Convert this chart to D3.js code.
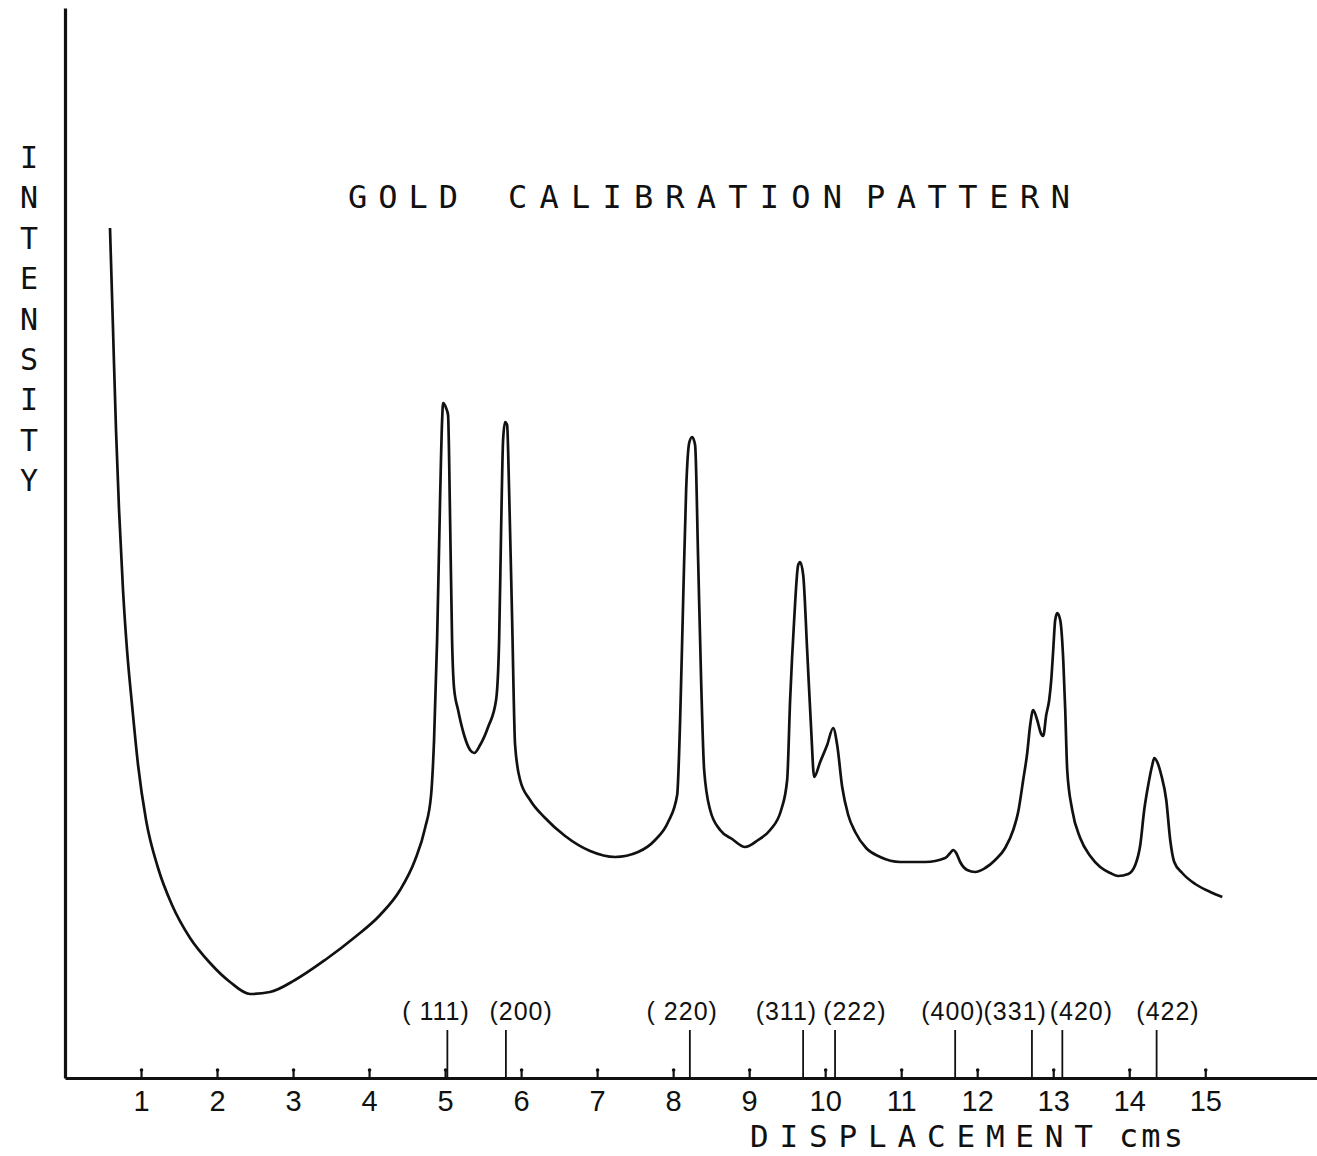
<!DOCTYPE html>
<html>
<head>
<meta charset="utf-8">
<title>Gold calibration pattern</title>
<script src="https://cdn.jsdelivr.net/npm/d3@7/dist/d3.min.js"></script>
<style>
  html, body { margin: 0; padding: 0; background: #fff; }
  svg { display: block; }
  .lettering { font-family: "DejaVu Sans Mono", monospace; fill: #111; }
  .digits { font-family: "Liberation Sans", Arial, sans-serif; fill: #111; }
</style>
</head>
<body>
<svg id="chart" width="1317" height="1156"></svg>
<script>
// Recorder trace: displacement along the film (cm) against intensity (arbitrary units)
const displacement = [
  0.592, 0.632, 0.671, 0.711, 0.763, 0.816, 0.882, 0.961, 1.066, 1.224,
  1.408, 1.645, 1.908, 2.171, 2.434, 2.697, 3.026, 3.421, 3.816, 4.145,
  4.408, 4.605, 4.737, 4.816, 4.855, 4.895, 4.934, 4.961, 4.974, 5.013,
  5.039, 5.066, 5.092, 5.118, 5.171, 5.250, 5.329, 5.382, 5.461, 5.566,
  5.671, 5.711, 5.737, 5.763, 5.789, 5.816, 5.842, 5.882, 5.921, 5.987,
  6.118, 6.316, 6.579, 6.908, 7.237, 7.539, 7.763, 7.934, 8.053, 8.092,
  8.132, 8.171, 8.211, 8.250, 8.289, 8.329, 8.368, 8.408, 8.487, 8.618,
  8.776, 8.947, 9.118, 9.276, 9.421, 9.500, 9.539, 9.592, 9.645, 9.671,
  9.711, 9.763, 9.816, 9.855, 9.934, 10.026, 10.105, 10.158, 10.224, 10.303,
  10.395, 10.539, 10.724, 10.987, 11.316, 11.579, 11.645, 11.684, 11.724, 11.776,
  11.868, 11.974, 12.105, 12.237, 12.368, 12.474, 12.539, 12.605, 12.658, 12.697,
  12.737, 12.789, 12.842, 12.868, 12.908, 12.947, 12.974, 13.000, 13.026, 13.053,
  13.092, 13.132, 13.158, 13.184, 13.250, 13.355, 13.487, 13.618, 13.750, 13.855,
  13.987, 14.079, 14.145, 14.197, 14.250, 14.303, 14.329, 14.368, 14.421, 14.487,
  14.539, 14.592, 14.697, 14.868, 15.066, 15.224
];
const intensity = [
  85.0, 74.8, 64.8, 56.8, 48.8, 42.8, 37.3, 31.3, 25.8, 21.0,
  17.3, 14.0, 11.5, 9.6, 8.4, 8.6, 9.8, 11.8, 14.1, 16.3,
  18.8, 21.8, 25.0, 28.3, 33.8, 43.8, 57.8, 65.8, 67.5, 67.0,
  66.3, 55.8, 43.8, 39.0, 36.8, 34.3, 32.8, 32.5, 33.3, 35.1,
  37.8, 43.8, 54.8, 63.8, 65.6, 65.3, 58.8, 45.8, 33.3, 29.8,
  27.8, 26.0, 24.2, 22.7, 22.1, 22.6, 23.8, 25.6, 28.3, 35.8,
  47.8, 58.8, 63.5, 64.1, 63.3, 51.8, 39.8, 30.8, 26.8, 24.8,
  23.9, 23.1, 23.8, 24.8, 26.8, 29.8, 37.8, 45.8, 51.3, 51.6,
  50.3, 42.8, 34.8, 30.1, 31.6, 33.3, 35.0, 33.3, 29.1, 26.3,
  24.6, 23.0, 22.1, 21.6, 21.6, 22.0, 22.5, 22.8, 22.5, 21.6,
  20.8, 20.6, 21.0, 21.8, 23.0, 24.8, 26.6, 29.8, 32.5, 35.3,
  36.8, 35.8, 34.4, 34.2, 36.3, 37.8, 39.8, 42.8, 45.8, 46.5,
  45.8, 41.8, 36.8, 30.8, 26.8, 24.0, 22.2, 21.1, 20.5, 20.2,
  20.4, 21.3, 23.3, 26.8, 29.3, 31.3, 32.0, 31.6, 30.3, 27.8,
  23.8, 21.6, 20.5, 19.4, 18.6, 18.1
];

// Axis tick labels (cm)
const tickLabels = ["1", "2", "3", "4", "5", "6", "7", "8", "9", "10", "11", "12", "13", "14", "15"];

// Indexed reflections of gold and where each line falls on the film
const hklLabels = ["( 111)", "(200)", "( 220)", "(311)", "(222)", "(400)", "(331)", "(420)", "(422)"];
const hklDisplacement = [5.03, 5.80, 8.22, 9.71, 10.13, 11.71, 12.72, 13.12, 14.36];
const hklLabelAt = [4.88, 6.0, 8.12, 9.49, 10.39, 11.68, 12.5, 13.37, 14.51];

const titleWords = ["GOLD", "CALIBRATION", "PATTERN"];
const yTitle = "INTENSITY";
const xTitleWords = ["DISPLACEMENT", "cms"];

const svg = d3.select("#chart");
const ink = "#111";

const x = d3.scaleLinear().domain([0, 16.47]).range([65, 1317]);
const y = d3.scaleLinear().domain([0, 107]).range([1078, 8]);

// x axis: baseline with short upward ticks
const xAxis = d3.axisBottom(x)
  .tickValues(tickLabels.map(Number))
  .tickFormat((d, i) => tickLabels[i])
  .tickSizeInner(-9)
  .tickSizeOuter(0)
  .tickPadding(12);

const gx = svg.append("g")
  .attr("transform", `translate(0,${y(0)})`)
  .call(xAxis);
gx.select(".domain").attr("stroke", ink).attr("stroke-width", 3);
gx.selectAll(".tick line").attr("stroke", ink).attr("stroke-width", 2.2);
gx.selectAll(".tick").append("circle")
  .attr("cy", -8).attr("r", 1.8).attr("fill", ink);
gx.selectAll(".tick text")
  .attr("class", "digits")
  .attr("font-size", 29)
  .attr("fill", ink);

// y axis: plain vertical line
const gy = svg.append("g")
  .attr("transform", `translate(${x(0)},0)`)
  .call(d3.axisLeft(y).tickValues([]).tickSizeOuter(0));
gy.select(".domain").attr("stroke", ink).attr("stroke-width", 3.2);

// reflection marker lines and their indices
const hkl = svg.append("g");
hkl.selectAll("line")
  .data(hklDisplacement)
  .join("line")
  .attr("x1", d => x(d)).attr("x2", d => x(d))
  .attr("y1", y(0)).attr("y2", y(0) - 48)
  .attr("stroke", ink).attr("stroke-width", 1.8);
hkl.selectAll("text")
  .data(hklLabels)
  .join("text")
  .attr("class", "digits")
  .attr("x", (d, i) => x(hklLabelAt[i]))
  .attr("y", 1020)
  .attr("text-anchor", "middle")
  .attr("font-size", 25)
  .attr("letter-spacing", 1)
  .text(d => d);

// intensity trace
const trace = d3.line()
  .x((d, i) => x(displacement[i]))
  .y((d, i) => y(intensity[i]))
  .curve(d3.curveMonotoneX);
svg.append("path")
  .datum(intensity)
  .attr("d", trace)
  .attr("fill", "none")
  .attr("stroke", ink)
  .attr("stroke-width", 2.7)
  .attr("stroke-linejoin", "round");

// title
const titleSpans = [[348, 110], [508, 334], [866, 204]];
svg.append("g").selectAll("text")
  .data(titleWords)
  .join("text")
  .attr("class", "lettering")
  .attr("x", (d, i) => titleSpans[i][0])
  .attr("y", 208)
  .attr("font-size", 32)
  .attr("textLength", (d, i) => titleSpans[i][1])
  .attr("lengthAdjust", "spacing")
  .text(d => d);

// vertical axis title, one letter per line
svg.append("g").selectAll("text")
  .data(yTitle.split(""))
  .join("text")
  .attr("class", "lettering")
  .attr("x", 29)
  .attr("y", (d, i) => 168 + i * 40.4)
  .attr("text-anchor", "middle")
  .attr("font-size", 30)
  .text(d => d);

// horizontal axis title
const xTitleSpans = [[750, 343, 1147, 31], [1119, 64, 1147, 32]];
svg.append("g").selectAll("text")
  .data(xTitleWords)
  .join("text")
  .attr("class", "lettering")
  .attr("x", (d, i) => xTitleSpans[i][0])
  .attr("y", (d, i) => xTitleSpans[i][2])
  .attr("font-size", (d, i) => xTitleSpans[i][3])
  .attr("textLength", (d, i) => xTitleSpans[i][1])
  .attr("lengthAdjust", "spacing")
  .text(d => d);
</script>
</body>
</html>
